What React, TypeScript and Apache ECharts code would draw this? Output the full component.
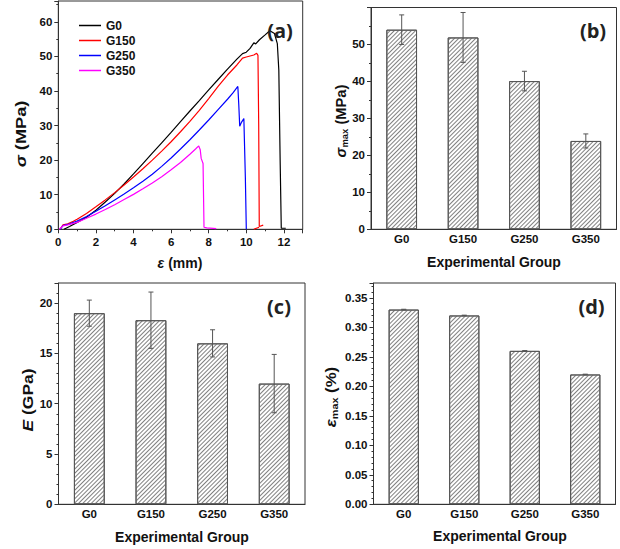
import React, { useEffect, useRef } from "react";
import * as echarts from "echarts";

const groups = ["G0", "G150", "G250", "G350"];

const curveG0: number[][] = [[0.3,0],[0.6,0.8],[1,2.0],[1.5,3.5],[2,5.5],[2.5,7.9],[3,10.4],[3.5,13.1],[4,16.0],[4.5,19.0],[5,22.0],[5.5,25.0],[6,28.0],[6.5,31.1],[7,34.2],[7.5,37.2],[8,40.3],[8.5,43.3],[9,46.3],[9.5,49.2],[9.8,50.8],[10,51.2],[10.2,52.3],[10.4,53.9],[10.5,53.6],[10.7,54.8],[11,56.2],[11.25,57.4],[11.5,56.6],[11.65,53.7],[11.73,46],[11.8,20],[11.86,0.3],[12.1,0.3]];
const curveG150: (number | string)[][] = [[0.1,0],[0.25,1.3],[0.5,1.6],[0.8,2.3],[1,2.9],[1.5,4.6],[2,6.5],[2.5,8.5],[3,10.6],[3.5,12.8],[4,15.1],[4.5,17.5],[5,20.0],[5.5,22.6],[6,25.3],[6.5,28.2],[7,31.2],[7.5,34.4],[8,37.8],[8.5,41.3],[9,44.6],[9.5,47.5],[9.8,49.5],[10,49.8],[10.2,50.1],[10.4,50.4],[10.55,50.9],[10.62,50.3],[10.66,30],[10.69,0.8],[10.9,1.2],["-","-"],[10.4,0],[10.68,0.6]];
const curveG250: number[][] = [[0.1,0],[0.25,1.1],[0.5,1.4],[1,2.4],[1.5,3.7],[2,5.2],[2.5,6.8],[3,8.5],[3.5,10.2],[4,12.0],[4.5,13.9],[5,15.9],[5.5,18.2],[6,20.6],[6.5,23.2],[7,25.9],[7.5,28.7],[8,31.6],[8.5,34.6],[9,37.6],[9.3,39.5],[9.55,41.3],[9.6,36],[9.65,29.8],[9.75,31],[9.87,32.0],[9.95,15],[10.0,0]];
const curveG350: number[][] = [[0.05,0],[0.25,1.0],[0.5,1.3],[1,2.0],[1.5,3.2],[2,4.4],[2.5,5.7],[3,7.1],[3.5,8.6],[4,10.1],[4.5,11.7],[5,13.4],[5.5,15.2],[6,17.2],[6.5,19.3],[7,21.7],[7.3,23.2],[7.47,24.1],[7.55,23.0],[7.6,20.5],[7.7,19],[7.75,0.6],[7.9,0.4],[8.4,0.2]];

const sigmaMax = [54.0, 51.9, 40.1, 23.9];
const sigmaErr = [4.0, 6.75, 2.65, 1.9];
const modulusE = [19.0, 18.3, 16.0, 12.0];
const modulusErr = [1.3, 2.8, 1.35, 2.9];
const epsMax = [0.33, 0.32, 0.26, 0.22];
const epsErr = [0.0005, 0.0005, 0.0005, 0.0005];

const FONT = "Liberation Sans";

export default function App() {
  const ref = useRef<HTMLDivElement>(null);
  useEffect(() => {
    if (!ref.current) return;
    const chart = echarts.init(ref.current, null, { renderer: "svg" });

    const grids = [
      { left: 58.3, top: 1, width: 244.4, height: 228.3 },
      { left: 371, top: 7.5, width: 245.5, height: 221.8 },
      { left: 58.5, top: 283, width: 246.5, height: 221.3 },
      { left: 373.5, top: 283, width: 242, height: 221.3 },
    ].map((g) => ({ ...g, show: true, borderColor: "#333", borderWidth: 1, backgroundColor: "transparent" }));

    const axisLabel = { fontFamily: FONT, fontWeight: "bold", fontSize: 11.5, color: "#111" };
    const axisLine = { show: true, lineStyle: { color: "#333", width: 1 } };
    const tick = { show: true, inside: false, length: 4, lineStyle: { color: "#333" } };
    const minor = (n: number) => ({ show: true, splitNumber: n, length: 2, lineStyle: { color: "#333" } });

    const catAxis = (gi: number) => ({
      type: "category",
      gridIndex: gi,
      data: groups,
      axisLine,
      axisTick: { show: false },
      axisLabel: { ...axisLabel, margin: 4 },
      splitLine: { show: false },
    });
    const valAxis = (gi: number, max: number, interval: number, minorN: number, decimals: number) => ({
      type: "value",
      gridIndex: gi,
      min: 0,
      max,
      interval,
      axisLine,
      axisTick: tick,
      minorTick: minor(minorN),
      splitLine: { show: false },
      minorSplitLine: { show: false },
      axisLabel: {
        ...axisLabel,
        margin: 6,
        showMaxLabel: false,
        formatter: (v: number) => v.toFixed(decimals),
      },
    });

    const barDecal = {
      symbol: "rect",
      symbolSize: 1,
      dashArrayX: [1, 0],
      dashArrayY: [1, 2],
      rotation: -Math.PI / 4,
      color: "#808080",
      backgroundColor: "#fff",
    };

    const barSeries = (name: string, gi: number, vals: number[]) => ({
      type: "bar",
      name,
      xAxisIndex: gi,
      yAxisIndex: gi,
      data: vals,
      barWidth: "50%",
      z: 2,
      itemStyle: { color: "#fff", borderColor: "#555", borderWidth: 1, decal: barDecal },
    });

    const errSeries = (name: string, gi: number, vals: number[], errs: number[]) => ({
      type: "custom",
      name,
      xAxisIndex: gi,
      yAxisIndex: gi,
      z: 5,
      data: vals.map((v, i) => [i, v - errs[i], v + errs[i]]),
      encode: { x: 0, y: [1, 2] },
      renderItem: (params: any, api: any) => {
        const x = api.value(0);
        const lo = api.coord([x, api.value(1)]);
        const hi = api.coord([x, api.value(2)]);
        const w = 2.5;
        const st = { stroke: "#555", lineWidth: 1 };
        return {
          type: "group",
          children: [
            { type: "line", shape: { x1: lo[0], y1: lo[1], x2: hi[0], y2: hi[1] }, style: st },
            { type: "line", shape: { x1: hi[0] - w, y1: hi[1], x2: hi[0] + w, y2: hi[1] }, style: st },
            { type: "line", shape: { x1: lo[0] - w, y1: lo[1], x2: lo[0] + w, y2: lo[1] }, style: st },
          ],
        };
      },
    });

    const lineSeries = (name: string, color: string, data: any[]) => ({
      type: "line",
      name,
      xAxisIndex: 0,
      yAxisIndex: 0,
      data,
      symbol: "none",
      connectNulls: false,
      lineStyle: { color, width: 1.2 },
      itemStyle: { color },
      z: 3,
    });

    const titleBase = { fontFamily: FONT, fontWeight: "bold", fontSize: 14, fill: "#111" };
    const rich = {
      i: { fontFamily: FONT, fontWeight: "bold", fontStyle: "italic", fontSize: 14, fill: "#111" },
      s: { fontFamily: FONT, fontWeight: "bold", fontSize: 9, fill: "#111", padding: [7, 0, 0, 0] },
    };
    const title = (text: string, x: number, y: number, rotate: boolean, stretch = 1) => ({
      type: "text",
      x,
      y,
      rotation: rotate ? Math.PI / 2 : 0,
      scaleX: stretch,
      style: { ...titleBase, text, rich, align: "center", verticalAlign: "middle" },
      z: 10,
    });
    const panelLabel = (text: string, x: number, y: number) => ({
      type: "text",
      x,
      y,
      style: { text, fontFamily: "Open Sans", fontWeight: "bold", fontSize: 20, fill: "#222", align: "center", verticalAlign: "middle" },
      z: 10,
    });

    chart.setOption({
      animation: false,
      backgroundColor: "#fff",
      grid: grids,
      legend: {
        show: true,
        data: ["G0", "G150", "G250", "G350"],
        orient: "vertical",
        left: 74,
        top: 14,
        icon: "rect",
        itemWidth: 22,
        itemHeight: 1.5,
        itemGap: 2,
        textStyle: { fontFamily: FONT, fontWeight: "bold", fontSize: 12, color: "#111", lineHeight: 13 },
      },
      xAxis: [
        {
          type: "value",
          gridIndex: 0,
          min: 0,
          max: 13,
          interval: 2,
          axisLine,
          axisTick: tick,
          minorTick: minor(2),
          splitLine: { show: false },
          axisLabel: { ...axisLabel, margin: 7, showMaxLabel: false },
        },
        catAxis(1),
        catAxis(2),
        catAxis(3),
      ],
      yAxis: [
        valAxis(0, 66, 10, 2, 0),
        valAxis(1, 60, 10, 2, 0),
        valAxis(2, 22, 5, 5, 0),
        valAxis(3, 0.375, 0.05, 5, 2),
      ],
      series: [
        lineSeries("G0", "#000000", curveG0),
        lineSeries("G150", "#ff0000", curveG150),
        lineSeries("G250", "#0000ff", curveG250),
        lineSeries("G350", "#ff00ff", curveG350),
        barSeries("sigma", 1, sigmaMax),
        errSeries("sigmaErr", 1, sigmaMax, sigmaErr),
        barSeries("E", 2, modulusE),
        errSeries("EErr", 2, modulusE, modulusErr),
        barSeries("eps", 3, epsMax),
        errSeries("epsErr", 3, epsMax, epsErr),
      ],
      graphic: [
        title("{i|σ} (MPa)", 21, 134, true, 1.3),
        title("{i|ε} (mm)", 180, 263, false),
        title("{i|σ}{s|max} (MPa)", 341.5, 121, true, 1.05),
        title("Experimental Group", 494, 262, false),
        title("{i|E} (GPa)", 28, 400, true, 1.25),
        title("Experimental Group", 182, 537, false),
        title("{i|ε}{s|max} (%)", 331, 397, true, 1.2),
        title("Experimental Group", 500, 536, false),
        panelLabel("(a)", 280, 30.5),
        panelLabel("(b)", 593, 30),
        panelLabel("(c)", 279, 306.5),
        panelLabel("(d)", 591.5, 306.5),
      ],
    });
    return () => chart.dispose();
  }, []);
  return <div ref={ref} style={{ position: "fixed", left: 0, top: 0, width: 620, height: 549 }} />;
}
